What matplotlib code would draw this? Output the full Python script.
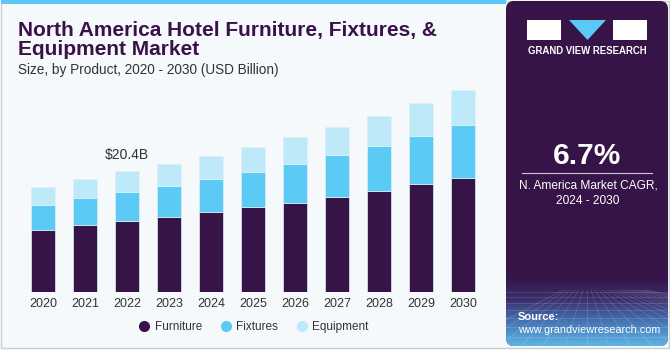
import matplotlib.pyplot as plt
import numpy as np
from matplotlib.patches import Rectangle, FancyBboxPatch, Polygon
from matplotlib.colors import LinearSegmentedColormap

plt.rcParams['font.family'] = ['Liberation Sans', 'DejaVu Sans']

# 数据 (USD Billion)
years = ['2020', '2021', '2022', '2023', '2024', '2025', '2026', '2027', '2028', '2029', '2030']
furniture = [10.45, 11.3, 12.0, 12.65, 13.5, 14.3, 15.05, 16.0, 17.0, 18.15, 19.3]
fixtures = [4.2, 4.5, 4.85, 5.3, 5.55, 6.0, 6.5, 7.1, 7.6, 8.15, 8.9]
equipment = [3.0, 3.2, 3.55, 3.7, 3.95, 4.2, 4.5, 4.7, 5.1, 5.5, 5.85]
segments = ['Furniture', 'Fixtures', 'Equipment']
colors = ['#371447', '#5bcaf5', '#bde9f9']
highlight_idx = 2
highlight_text = '$20.4B'

W, H = 670, 350
fig = plt.figure(figsize=(6.7, 3.5), dpi=100)
fig.patch.set_facecolor('white')

# 背景面板
bg = fig.add_axes([0, 0, 1, 1])
bg.axis('off')
bg.add_patch(Rectangle((1, 1), W - 2, H - 3, facecolor='#f5f9fc', edgecolor='#c9cdd2', lw=1))
bg.add_patch(Rectangle((1, 0), 505, 4, facecolor='#5bc8f5', edgecolor='none'))
panel = FancyBboxPatch((506, 1), 162, 345, boxstyle='round,pad=0,rounding_size=8',
                       facecolor='#371447', edgecolor='none')
bg.add_patch(panel)
# 右侧底部渐变
grad = np.linspace(0, 1, 80).reshape(-1, 1)
cmap = LinearSegmentedColormap.from_list('g', ['#371447', '#3a2f6c', '#4677b6', '#5fb4e4'])
im = bg.imshow(grad, extent=(506, 668, 346, 276), cmap=cmap, aspect='auto', zorder=1, origin='upper')
im.set_clip_path(panel)
# 网格纹理
for k in range(-6, 16):
    bg.plot([587 + k * 4, 587 + k * 22], [290, 346], color='white', alpha=0.15, lw=0.6, zorder=2)
for yy in [292, 297, 303, 310, 318, 327, 337]:
    bg.plot([506, 668], [yy, yy], color='white', alpha=0.15, lw=0.6, zorder=2)
bg.set_xlim(0, W)
bg.set_ylim(H, 0)

# 标题
bg.text(18, 36, 'North America Hotel Furniture, Fixtures, &', fontsize=15, fontweight='bold',
        color='#3a1248', va='baseline')
bg.text(18, 55, 'Equipment Market', fontsize=15, fontweight='bold', color='#3a1248', va='baseline')
bg.text(18, 74, 'Size, by Product, 2020 - 2030 (USD Billion)', fontsize=9.8, color='#333333',
        va='baseline')

# 右侧 logo
bg.add_patch(Rectangle((527, 20), 34, 20, facecolor='white', edgecolor='none', zorder=3))
bg.add_patch(Polygon([(569, 20), (606, 20), (587.5, 40)], facecolor='#5bc8f5', edgecolor='none', zorder=3))
bg.add_patch(Rectangle((613, 20), 34, 20, facecolor='white', edgecolor='none', zorder=3))
bg.text(587, 51, 'GRAND VIEW RESEARCH', fontsize=6.9, fontweight='bold', color='white',
        ha='center', va='center', zorder=3)

bg.text(587, 156, '6.7%', fontsize=21.5, fontweight='bold', color='white', ha='center', va='center', zorder=3)
bg.plot([522, 652], [173, 173], color='#cfc8d8', lw=0.8, zorder=3)
bg.text(588, 186, 'N. America Market CAGR,', fontsize=8.6, color='white', ha='center', va='center', zorder=3)
bg.text(588, 201, '2024 - 2030', fontsize=8.6, color='white', ha='center', va='center', zorder=3)
bg.text(518, 317, 'Source:', fontsize=8, fontweight='bold', color='white', va='center', zorder=3)
bg.text(518, 330, 'www.grandviewresearch.com', fontsize=7.8, color='white', va='center', zorder=3)

# 柱状图
ax = fig.add_axes([22 / W, 1 - 292 / H, (484 - 22) / W, (292 - 80) / H])
ax.set_facecolor('none')
x = np.arange(len(years))
bottom = np.zeros(len(years))
for vals, c, name in zip([furniture, fixtures, equipment], colors, segments):
    ax.bar(x, vals, width=0.55, bottom=bottom, color=c, edgecolor='#dfeff7', linewidth=0.5, label=name)
    bottom += np.array(vals)

ax.text(x[highlight_idx], bottom[highlight_idx] + 1.6, highlight_text, ha='center', va='bottom',
        fontsize=10, color='#333333')

ax.set_xlim(-0.5, 10.5)
ax.set_ylim(0, 35.74)
ax.set_xticks(x)
ax.set_xticklabels(years, fontsize=9, color='#333333')
ax.tick_params(axis='x', length=0, pad=4)
ax.set_yticks([])
for s in ax.spines.values():
    s.set_visible(False)

handles = [plt.Line2D([], [], marker='o', ls='', color=c, markersize=7) for c in colors]
fig.legend(handles, segments, loc='center', bbox_to_anchor=(254 / W, 1 - 327 / H), ncol=3,
           frameon=False, fontsize=8.5, handlelength=0.8, handletextpad=0.5, columnspacing=1.6,
           labelcolor='#333333')

fig.savefig('out.png', dpi=100, facecolor=fig.get_facecolor())
